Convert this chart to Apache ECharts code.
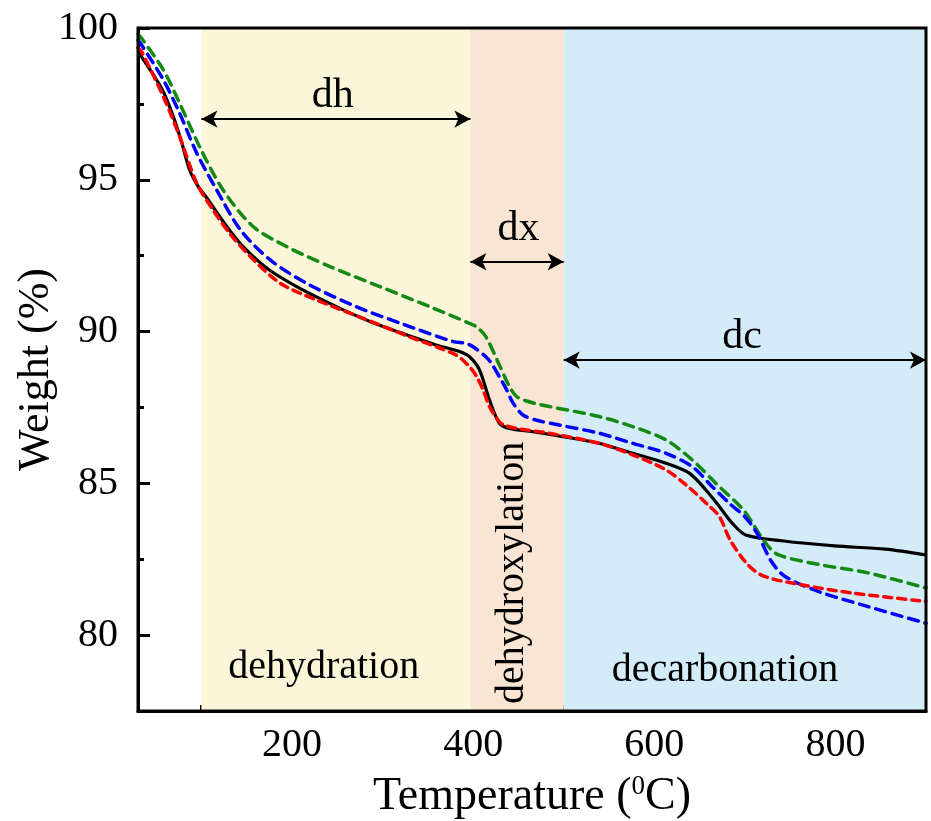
<!DOCTYPE html>
<html>
<head>
<meta charset="utf-8">
<script src="https://cdn.jsdelivr.net/npm/echarts@6/dist/echarts.min.js"></script>
<style>html,body{margin:0;padding:0;background:#fff}#c{width:931px;height:821px}</style>
</head>
<body>
<div id="c"></div>
<script>
// ---- data ----
const blackT = [30,34,45,58,69,78,87,96,106,128,146,175,212,249,286,322,359,385,396,407,418,429,440,466,499,539,576,613,639,657,672,686,701,743,799,855,900];
const blackW = [99.25,99.05,98.55,97.90,97.08,96.25,95.32,94.80,94.40,93.46,92.80,92.03,91.37,90.82,90.33,89.94,89.56,89.34,89.17,88.74,87.75,86.98,86.81,86.70,86.54,86.32,85.99,85.66,85.33,84.78,84.23,83.69,83.30,83.10,82.94,82.83,82.64];

const redT = [30,34,58,76,95,113,131,154,187,227,278,330,381,396,404,411,418,426,432,448,484,539,576,613,635,659,672,684,703,721,762,818,900];
const redW = [99.35,99.22,97.74,96.42,94.88,94.00,93.24,92.47,91.59,91.04,90.44,89.82,89.23,88.84,88.51,88.08,87.53,87.15,86.95,86.81,86.65,86.32,85.94,85.44,84.95,84.30,83.90,83.12,82.33,81.94,81.66,81.39,81.11];

const blueT = [30,34,58,76,95,117,143,176,216,271,322,378,392,400,414,420,429,437,444,455,470,495,539,576,613,642,664,683,700,714,729,744,781,836,900];
const blueW = [99.60,99.44,98.29,97.19,95.87,94.66,93.35,92.36,91.59,90.82,90.25,89.67,89.61,89.50,89.17,88.96,88.51,88.08,87.65,87.25,87.08,86.92,86.65,86.32,85.99,85.55,84.89,84.34,83.90,83.33,82.44,81.94,81.44,80.94,80.39];

const greenT = [30,34,58,76,98,124,157,194,242,297,352,396,404,414,429,440,448,458,470,484,539,576,613,642,668,699,721,736,781,836,900];
const greenW = [99.80,99.66,98.62,97.52,96.09,94.66,93.46,92.80,92.14,91.48,90.82,90.27,90.15,89.83,88.90,88.19,87.86,87.72,87.62,87.53,87.20,86.87,86.43,85.77,85.00,84.10,83.11,82.66,82.33,82.05,81.55];

const xMajorTicks = [200,400,600,800];
const xMinorTicks = [100,300,500,700];
const yMajorTicks = [80,85,90,95,100];
const yMinorTicks = [82.5,87.5,92.5,97.5];

const bandNames = ['dehydration','dehydroxylation','decarbonation'];
const bandStart = [100,397,500];
const bandEnd   = [397,500,900];

const arrowStart = [100,397,500];
const arrowEnd   = [397,500,900];
const arrowW     = [97.0,92.3,89.06];
const arrowText  = ['dh','dx','dc'];
const arrowTextT = [245,450,697];
const arrowTextW = [97.75,93.38,89.82];

const bandTextT = [235,443,678];
const bandTextW = [78.92,82.05,78.85];

// ---- chart ----
const FONT = 'Liberation Serif, Times New Roman, serif';
const bandColors = ['#FBF6D9','#F8E5D3','#D4EBF8'];
const zip = (a,b)=>a.map((v,i)=>[v,b[i]]);

const chart = echarts.init(document.getElementById('c'), null, {renderer:'canvas'});

const annoData = [];
arrowText.forEach((t,i)=>annoData.push({value:[arrowTextT[i],arrowTextW[i]], name:t, rot:0}));
bandNames.forEach((t,i)=>annoData.push({value:[bandTextT[i],bandTextW[i]], name:t, rot:(i===1?90:0)}));

const option = {
  animation:false,
  backgroundColor:'#fff',
  grid:{left:138,right:5,top:28,bottom:110,containLabel:false,outerBoundsMode:'none',
        show:true,borderColor:'#000',borderWidth:3,backgroundColor:'transparent',z:10},
  xAxis:[
    {type:'value',min:30,max:900,position:'bottom',
     axisLine:{show:true,onZero:false,lineStyle:{color:'#000',width:3}},
     axisTick:{show:true,inside:true,length:12,customValues:xMajorTicks,lineStyle:{color:'#000',width:3}},
     axisLabel:{show:true,customValues:xMajorTicks,fontSize:40,fontFamily:FONT,color:'#000',margin:14},
     splitLine:{show:false},
     name:'Temperature ({sup|0}C)',nameLocation:'middle',nameGap:62,nameMoveOverlap:false,
     nameTextStyle:{fontSize:46,fontFamily:FONT,color:'#000',
       rich:{sup:{fontSize:27,fontFamily:FONT,color:'#000',verticalAlign:'top',padding:[0,0,20,0]}}}
    },
    {type:'value',min:30,max:900,position:'bottom',
     axisLine:{show:false},
     axisTick:{show:true,inside:true,length:6,customValues:xMinorTicks,lineStyle:{color:'#000',width:3}},
     axisLabel:{show:false},splitLine:{show:false}}
  ],
  yAxis:[
    {type:'value',min:77.5,max:100,position:'left',
     axisLine:{show:true,onZero:false,lineStyle:{color:'#000',width:3}},
     axisTick:{show:true,inside:true,length:12,customValues:yMajorTicks,lineStyle:{color:'#000',width:3}},
     axisLabel:{show:true,customValues:yMajorTicks,fontSize:40,fontFamily:FONT,color:'#000',margin:20},
     splitLine:{show:false},
     name:'Weight (%)',nameLocation:'middle',nameGap:80,nameRotate:90,nameMoveOverlap:false,
     nameTextStyle:{fontSize:44,fontFamily:FONT,color:'#000'}
    },
    {type:'value',min:77.5,max:100,position:'left',
     axisLine:{show:false},
     axisTick:{show:true,inside:true,length:6,customValues:yMinorTicks,lineStyle:{color:'#000',width:3}},
     axisLabel:{show:false},splitLine:{show:false}}
  ],
  series:[
    {type:'line',name:'bands',data:[],silent:true,
     markArea:{silent:true,
       data:bandStart.map((s,i)=>[{xAxis:s,itemStyle:{color:bandColors[i],opacity:1}},{xAxis:bandEnd[i]}])},
     z:1},
    {type:'line',name:'black',data:zip(blackT,blackW),showSymbol:false,smooth:0.3,
     lineStyle:{color:'#000',width:3.2},z:3},
    {type:'line',name:'green',data:zip(greenT,greenW),showSymbol:false,smooth:0.3,
     lineStyle:{color:'#138A13',width:3.5,type:[10,7],cap:'round'},z:4},
    {type:'line',name:'blue',data:zip(blueT,blueW),showSymbol:false,smooth:0.3,
     lineStyle:{color:'#0000FF',width:3.5,type:[10,7],cap:'round'},z:5},
    {type:'line',name:'red',data:zip(redT,redW),showSymbol:false,smooth:0.3,
     lineStyle:{color:'#FF0000',width:3.5,type:[8,6],cap:'round'},z:6},
    {type:'line',name:'arrows',data:[],silent:true,z:7,
     markLine:{silent:true,symbol:['arrow','arrow'],symbolSize:[13,16],
       lineStyle:{color:'#000',width:2,type:'solid'},label:{show:false},
       data:arrowStart.map((s,i)=>[{coord:[s,arrowW[i]]},{coord:[arrowEnd[i],arrowW[i]]}])}},
    {type:'scatter',name:'annotations',symbolSize:0,silent:true,z:8,
     data:annoData.map(d=>({value:d.value,name:d.name,
       label:{show:true,position:'inside',formatter:d.name,rotate:d.rot,
              fontSize:(d.rot||d.name.length>3)?40:42,fontFamily:FONT,color:'#000',
              textBorderWidth:0,opacity:1}}))}
  ]
};
chart.setOption(option);
</script>
</body>
</html>
